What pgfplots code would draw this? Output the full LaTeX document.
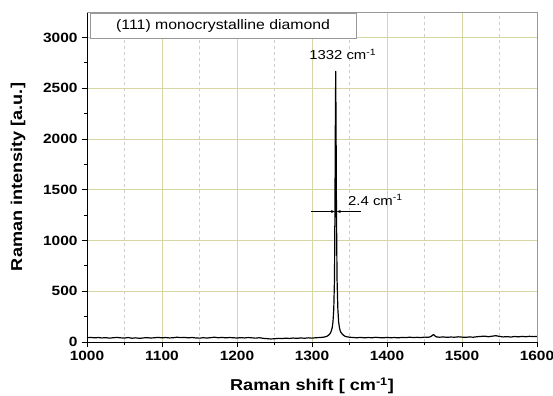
\documentclass[border=0pt]{standalone}
\usepackage{fontspec}
\setmainfont{Liberation Sans}[FakeStretch=1.15]
\usepackage{pgfplots}
\pgfplotsset{compat=1.18}
\usetikzlibrary{arrows.meta}
\definecolor{majgrid}{RGB}{214,214,165}
\definecolor{mingrid}{RGB}{205,205,205}
\begin{document}
\begin{tikzpicture}
\begin{axis}[
  width=450bp, height=330bp, scale only axis,
  xmin=1000, xmax=1600, ymin=0, ymax=3250,
  axis x line*=bottom, axis y line*=left,
  axis line style={black, line width=1pt},
  xtick={1000,1100,...,1600}, ytick={0,500,...,3000},
  minor x tick num=1, minor y tick num=1,
  tick align=outside,
  major tick length=5bp, minor tick length=3bp,
  tick style={black, line width=0.8pt},
  grid=both,
  major grid style={majgrid, line width=0.6pt},
  minor x grid style={mingrid, dashed, line width=0.4pt},
  minor y grid style={draw=none},
  /pgf/number format/assume math mode=true,
  /pgf/number format/set thousands separator={},
  ticklabel style={font=\bfseries\fontsize{13.5}{13.5}\selectfont},
  yticklabel style={xshift=-1bp},
  xticklabel style={yshift=-1bp},
  xlabel={Raman shift [ cm\textsuperscript{-1}]},
  ylabel={Raman intensity [a.u.]},
  label style={font=\bfseries\fontsize{15.8}{15.8}\selectfont},
  xlabel style={at={(axis description cs:0.5,-0.1333)}, anchor=center},
  ylabel style={at={(axis description cs:-0.153,0.5)}, anchor=center},
  clip=false,
]
\addplot[black, line width=1.2pt, line join=round] coordinates {
(1000,42) (1005,45) (1010,41) (1015,44) (1020,40) (1025,43) (1030,38) (1035,42)
(1040,45) (1045,41) (1050,39) (1055,44) (1060,37) (1065,41) (1070,36) (1075,40)
(1080,43) (1085,39) (1090,42) (1095,45) (1100,41) (1105,44) (1110,40) (1115,42)
(1120,47) (1125,43) (1130,45) (1135,41) (1140,44) (1145,40) (1150,38) (1155,42)
(1160,39) (1165,43) (1170,47) (1175,42) (1180,45) (1185,41) (1190,44) (1195,42)
(1200,39) (1205,43) (1210,40) (1215,44) (1220,41) (1225,38) (1230,42) (1235,36)
(1240,33) (1245,30) (1250,32) (1255,36) (1260,34) (1265,38) (1270,35) (1275,39)
(1280,36) (1285,40) (1290,37) (1295,41) (1300,38) (1305,42) (1310,44) (1315,47)
(1318,52) (1320,57) (1322,66) (1324,82) (1325,95) (1326,113) (1327,145) (1328,200)
(1329,320) (1330,620) (1330.6,1300) (1331.1,2100) (1331.6,2665) (1332.1,2100) (1332.6,1300)
(1333.4,620) (1334.5,320) (1335.5,200) (1336.5,145) (1337.5,113) (1338.5,95) (1340,82) (1342,66)
(1344,57) (1346,52) (1350,47) (1355,44) (1360,42) (1365,45) (1370,41) (1375,44)
(1380,42) (1385,46) (1390,43) (1395,41) (1400,45) (1405,42) (1410,44) (1415,41)
(1420,45) (1425,43) (1430,47) (1435,44) (1440,46) (1445,43) (1450,48) (1455,47)
(1458,52) (1460,62) (1462,74) (1464,60) (1466,50) (1470,47) (1475,50) (1480,46)
(1485,49) (1490,47) (1495,51) (1500,48) (1505,46) (1510,50) (1515,47) (1520,52)
(1525,55) (1530,58) (1535,52) (1540,57) (1545,62) (1550,55) (1555,50) (1560,53)
(1565,49) (1570,54) (1575,51) (1580,55) (1585,52) (1590,56) (1595,53) (1600,55)
};
\draw[gray!80, line width=0.6pt] (rel axis cs:0,1) -- (rel axis cs:1,1) -- (rel axis cs:1,0);
\draw[gray!80, line width=0.7pt, fill=white] (axis cs:1004,3240) rectangle (axis cs:1359,2990);
\node[font=\fontsize{13.8}{13.8}\selectfont, anchor=center] at (axis cs:1181.5,3115) {(111) monocrystalline diamond};
\node[font=\fontsize{13}{13}\selectfont, anchor=center] at (axis cs:1341,2830) {1332 cm\textsuperscript{-1}};
\draw[black, line width=0.6pt, -{Stealth[length=4bp,width=3bp]}] (axis cs:1299,1285) -- (axis cs:1330.5,1285);
\draw[black, line width=0.6pt, -{Stealth[length=4bp,width=3bp]}] (axis cs:1365,1285) -- (axis cs:1333,1285);
\node[font=\fontsize{13}{13}\selectfont, anchor=west, inner sep=0pt] at (axis cs:1348,1400) {2.4 cm\textsuperscript{-1}};
\end{axis}
\pgfresetboundingbox
\path (-87bp,-54bp) rectangle (466bp,342bp);
\end{tikzpicture}
\end{document}
